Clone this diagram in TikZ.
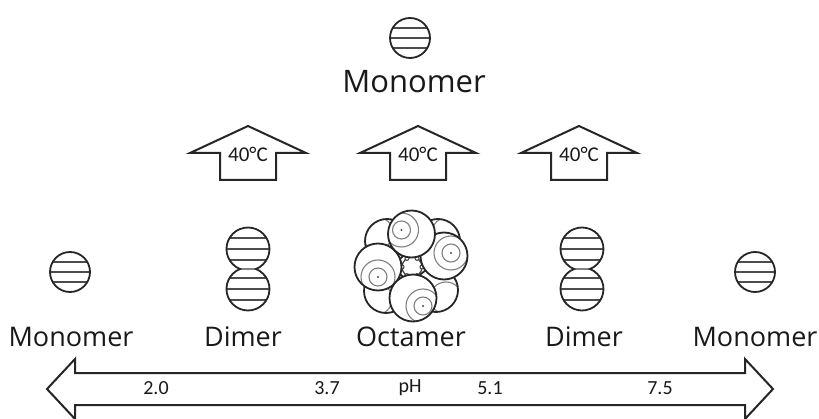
\documentclass[tikz,border=0pt]{standalone}
\usepackage{fontspec}
\setmainfont{Open Sans}
\newfontfamily\numfont{Carlito}

% one ball of the octamer: centre (#1,#2), highlight offset (#3,#4), radius #5
\newcommand\octball[5]{%
  \fill[white] (#1,#2) circle (#5);
  \begin{scope}
    \clip (#1,#2) circle (#5);
    \draw[shell] ({#1+(#3)},{#2+(#4)}) circle (9);
    \draw[shell] ({#1+(#3)},{#2+(#4)}) circle (17);
  \end{scope}
  \fill[black!70] ({#1+(#3)},{#2+(#4)}) circle (1.1);
  \draw[outline] (#1,#2) circle (#5);
}
% a half hidden ball at the back
\newcommand\backball[4]{%
  \fill[white] (#1,#2) circle (22);
  \begin{scope}
    \clip (#1,#2) circle (22);
    \draw[shell] ({#1+(#3)},{#2+(#4)}) circle (16);
  \end{scope}
  \draw[outline] (#1,#2) circle (22);
}

\tikzset{
  outline/.style={draw=black!85,line width=1.8pt},
  stripe/.style={draw=black!70,line width=1.3pt},
  shell/.style={draw=black!50,line width=1.1pt},
  label/.style={anchor=base,text=black!90,font=\fontsize{27}{30}\selectfont},
  tick/.style={text=black!90,font=\numfont\fontsize{20}{22}\selectfont},
  pics/monomer/.style={code={
    \fill[white] (0,0) circle (20);
    \begin{scope}
      \clip (0,0) circle (20);
      \foreach \dy in {-10,0,10}
        \draw[stripe] (-22,\dy) -- (22,\dy);
    \end{scope}
    \draw[outline] (0,0) circle (20);
  }},
  pics/dimer/.style={code={
    \begin{scope}
      \clip (7.9,0) arc[start angle=-68.4,end angle=248.4,radius=21.5]
        arc[start angle=111.6,end angle=428.4,radius=21.5] -- cycle;
      \foreach \dy in {31,20,9,-9,-20,-31}
        \draw[stripe] (-24,\dy) -- (24,\dy);
      \draw[shell] (-9,0) -- (9,0);
    \end{scope}
    \draw[outline] (7.9,0) arc[start angle=-68.4,end angle=248.4,radius=21.5]
      arc[start angle=111.6,end angle=428.4,radius=21.5] -- cycle;
  }},
  pics/heatup/.style={code={
    \draw[outline,line width=2pt,fill=white] (0,27) -- (58,0) -- (28,0)
      -- (28,-27) -- (-28,-27) -- (-28,0) -- (-58,0) -- cycle;
    \node[tick,font=\numfont\fontsize{21}{22}\selectfont] (-t) at (0,-1) {40°C};
  }}
}

\begin{document}
\begin{tikzpicture}[x=1pt,y=1pt]
  \useasboundingbox (0,0) rectangle (819,418);

  % monomer on top
  \pic (monoT) at (410,380) {monomer};
  \node[label,font=\fontsize{31}{34}\selectfont] (lblMonoT) at (414,325) {Monomer};

  % heating steps
  \pic (heatL) at (248,265) {heatup};
  \pic (heatM) at (418,265) {heatup};
  \pic (heatR) at (579,265) {heatup};

  % row of species
  \pic (monoL) at (70,146) {monomer};
  \pic (dimL) at (248,149) {dimer};
  \pic (dimR) at (582,149) {dimer};
  \pic (monoR) at (755,146) {monomer};

  % octamer
  \begin{scope}[shift={(411,151)}]
    \backball{-24}{26}{-10}{8}
    \backball{27}{26}{10}{8}
    \backball{25}{-23}{10}{-8}
    \backball{-25}{-24}{-10}{-8}
    \draw[black!75,line width=1.2pt,fill=white] (1,0) circle (10);
    \foreach \a in {0,60,...,300}
      \draw[black!75,line width=1pt,fill=white] (1,0) ++(\a:10) circle (2);
    \octball{33}{11}{7}{3}{23.5}
    \octball{-33}{0}{0}{-10}{23.5}
    \octball{0.5}{33}{-10}{4}{23.5}
    \octball{2}{-31}{10}{-8}{23.5}
  \end{scope}

  \node[label] (lblMonoL) at (71,72) {Monomer};
  \node[label] (lblDimL) at (243,72) {Dimer};
  \node[label] (lblOcta) at (411,72) {Octamer};
  \node[label] (lblDimR) at (584,72) {Dimer};
  \node[label] (lblMonoR) at (755,72) {Monomer};

  % pH scale
  \draw[outline,line width=2pt,fill=white] (47,29) -- (75,59) -- (75,45)
    -- (745,45) -- (745,59) -- (773,29) -- (745,-1) -- (745,13)
    -- (75,13) -- (75,-1) -- cycle;
  \node[tick] (ph20) at (156,30) {2.0};
  \node[tick] (ph37) at (327,30) {3.7};
  \node[tick] (phlbl) at (410,30) {pH};
  \node[tick] (ph51) at (490,30) {5.1};
  \node[tick] (ph75) at (660,30) {7.5};
\end{tikzpicture}
\end{document}
